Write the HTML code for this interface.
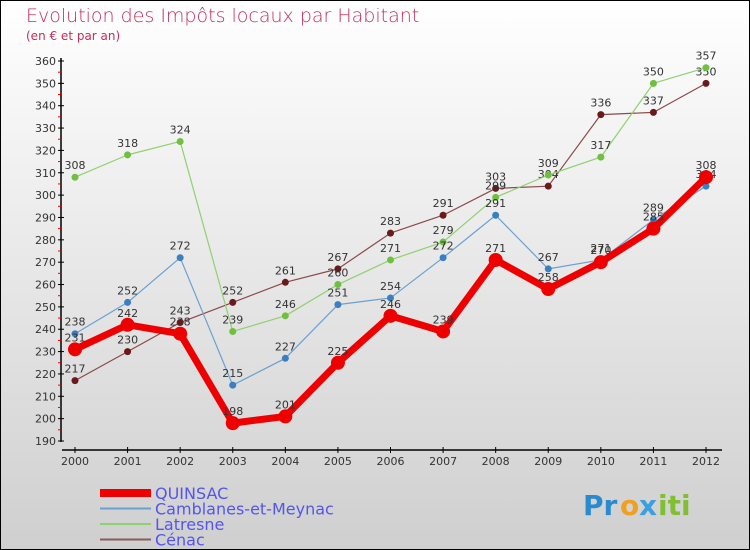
<!DOCTYPE html>
<html><head><meta charset="utf-8"><style>
body{margin:0}
svg{display:block;font-family:"DejaVu Sans","Liberation Sans",sans-serif}
</style></head><body>
<svg width="750" height="550" xmlns="http://www.w3.org/2000/svg">
<defs><linearGradient id="bg" x1="0" y1="0" x2="0" y2="1"><stop offset="0" stop-color="#ffffff"/><stop offset="1" stop-color="#cfcfcf"/></linearGradient></defs>
<rect x="0.5" y="0.5" width="749" height="549" fill="url(#bg)" stroke="#000"/>
<text x="26" y="22" font-size="19" fill="#c0305a" font-weight="200">Evolution des Impôts locaux par Habitant</text>
<text x="26" y="40" font-size="12" fill="#c0305a">(en € et par an)</text>
<g id="axes"></g>
<g id="series"></g>
<g id="legend"></g>
<g font-size="28" font-weight="bold">
<text x="583" y="515" fill="#2a8ad0">Pr</text><text x="620" y="515" fill="#f0a020">o</text><text x="639" y="515" fill="#3aa0e0">x</text><text x="658" y="515" fill="#80c030">iti</text>
</g>
</svg>
<script>
const years=["2000","2001","2002","2003","2004","2005","2006","2007","2008","2009","2010","2011","2012"];
const yTicks=[190,200,210,220,230,240,250,260,270,280,290,300,310,320,330,340,350,360];
const quinsac=[231,242,238,198,201,225,246,239,271,258,270,285,308];
const camblanes=[238,252,272,215,227,251,254,272,291,267,271,289,304];
const latresne=[308,318,324,239,246,260,271,279,299,309,317,350,357];
const cenac=[217,230,243,252,261,267,283,291,303,304,336,337,350];
const NS="http://www.w3.org/2000/svg";
function X(i){return 75+i*(706-75)/(years.length-1);}
function Y(v){return 61+(360-v)*(441-61)/170;}
function mk(tag,attrs,parent){const e=document.createElementNS(NS,tag);for(const k in attrs)e.setAttribute(k,attrs[k]);parent.appendChild(e);return e;}
const axes=document.getElementById('axes');
let ya=mk('line',{x1:61,y1:58,x2:61,y2:442,stroke:'#000','stroke-width':1.5},axes);


yTicks.forEach((v,i)=>{
 mk('line',{x1:58,x2:64,y1:Y(v),y2:Y(v),stroke:'#000'},axes);
 if(i<yTicks.length-1)mk('line',{x1:58,x2:61,y1:Y(v+5),y2:Y(v+5),stroke:'#e00'},axes);
 const t=mk('text',{x:56,y:Y(v)+4,'text-anchor':'end','font-size':11,fill:'#333'},axes);
 t.textContent=v;
 
 
});
let xa=mk('line',{x1:62,y1:450,x2:722,y2:450,stroke:'#000','stroke-width':1.5},axes);


years.forEach((y,i)=>{
 mk('line',{x1:X(i),x2:X(i),y1:447,y2:453,stroke:'#000'},axes);
 const t=mk('text',{x:X(i),y:465,'text-anchor':'middle','font-size':11,fill:'#333'},axes);
 t.textContent=y;
 
 
});
const S=document.getElementById('series');
function draw(data,color,dot,w,r,name){
 const g=mk('g',{},S);
 
 
 mk('polyline',{points:data.map((v,i)=>X(i)+','+Y(v)).join(' '),fill:'none',stroke:color,'stroke-width':w,'stroke-linejoin':'round'},g);
 data.forEach((v,i)=>{
  const c=mk('circle',{cx:X(i),cy:Y(v),r:r,fill:dot},g);
  
  
  const t=mk('text',{x:X(i),y:Y(v)-8,'text-anchor':'middle','font-size':11,fill:'#333'},g);
  t.textContent=v;
  
  
 });
}
draw(cenac,'#8b4a4a','#6a1a1a',1.2,3.5,'series-cenac');
draw(latresne,'#90d070','#70c040',1.2,3.5,'series-latresne');
draw(camblanes,'#6aa0d0','#3a80c0',1.2,3.5,'series-camblanes');
draw(quinsac,'#ee0000','#ee0000',7,7,'series-quinsac');
const L=document.getElementById('legend');
const leg=[["QUINSAC","#ee0000",8],["Camblanes-et-Meynac","#6aa0d0",2],["Latresne","#90d070",2],["Cénac","#8b5a5a",2]];
leg.forEach((l,i)=>{
 const y=493+i*15.5;
 const g=mk('g',{},L);
 
 
 mk('line',{x1:100,x2:151,y1:y,y2:y,stroke:l[1],'stroke-width':l[2]},g);
 const t=mk('text',{x:155,y:y+6,'font-size':16,fill:'#5555ee'},g);
 t.textContent=l[0];
});
</script>
</body></html>
